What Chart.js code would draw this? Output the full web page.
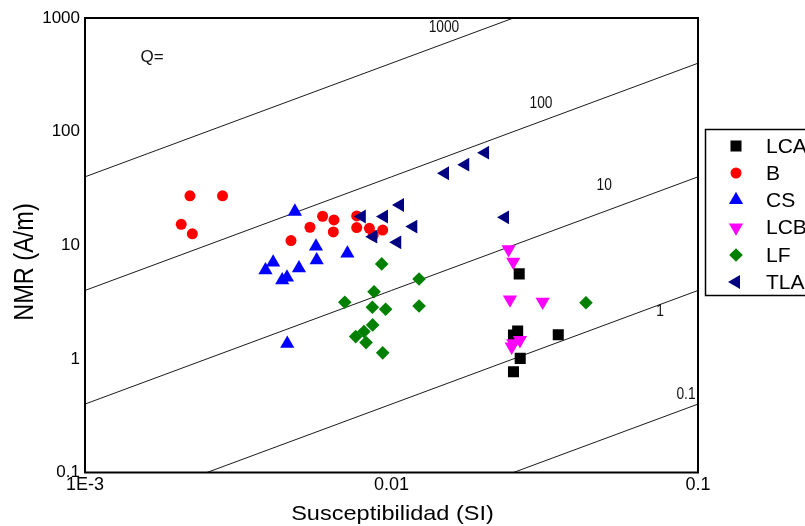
<!DOCTYPE html>
<html>
<head>
<meta charset="utf-8">
<script src="https://cdn.jsdelivr.net/npm/chart.js@4.4.1/dist/chart.umd.min.js"></script>
<style>
  html, body { margin: 0; padding: 0; background: #ffffff; }
  canvas { display: block; }
</style>
</head>
<body>
<canvas id="chart" width="805" height="526"></canvas>
<script>
// Susceptibility (SI) vs NRM (A/m) per lithology group
const lcaK = [0.0261, 0.0258, 0.0250, 0.0350, 0.0263, 0.0250];
const lcaN = [5.6, 1.76, 1.62, 1.63, 1.01, 0.77];

const bK = [0.0022, 0.00281, 0.00206, 0.00224, 0.0047, 0.00542, 0.00596, 0.00649, 0.00646, 0.0077, 0.0077, 0.00847, 0.00872, 0.00936];
const bN = [27.2, 27.2, 15.3, 12.6, 11.0, 14.4, 18.0, 16.7, 13.1, 18.1, 14.3, 14.1, 12.3, 13.6];

const csK = [0.00484, 0.00411, 0.00388, 0.0044, 0.00456, 0.00499, 0.00567, 0.0057, 0.00718, 0.00457];
const csN = [19.8, 7.05, 6.03, 4.93, 5.21, 6.29, 9.76, 7.39, 8.47, 1.36];

const lcbK = [0.0241, 0.02496, 0.02435, 0.03113, 0.02496, 0.02625, 0.02467];
const lcbN = [9.2, 7.15, 3.33, 3.18, 1.37, 1.46, 1.28];

const lfK = [0.00929, 0.0123, 0.00877, 0.00704, 0.00866, 0.00957, 0.0123, 0.00868, 0.00813, 0.00764, 0.00826, 0.00936, 0.0431];
const lfN = [6.85, 5.05, 3.9, 3.15, 2.85, 2.73, 2.92, 1.99, 1.74, 1.57, 1.39, 1.13, 3.12];

const tlaK = [0.0080, 0.00945, 0.01066, 0.01178, 0.00872, 0.01044, 0.01495, 0.0174, 0.0202, 0.02346];
const tlaN = [17.9, 17.9, 22.6, 14.6, 11.9, 10.6, 43.0, 51.2, 65.3, 17.6];

// Koenigsberger ratio reference lines (Q = NRM / (K * H)), end points
const qLabels = ['1000', '100', '10', '1', '0.1'];
const qStartK = [0.001, 0.001, 0.001, 0.0025, 0.025];
const qStartN = [40, 4, 0.4, 0.1, 0.1];
const qEndK = [0.025, 0.1, 0.1, 0.1, 0.1];
const qEndN = [1000, 400, 40, 4, 0.4];
// where each Q value is written
const qLabelK = [0.01483, 0.03075, 0.0494, 0.0752, 0.0914];
const qLabelN = [818, 175, 33.3, 2.62, 0.481];

const xTickValues = [0.001, 0.01, 0.1];
const xTickLabels = ['1E-3', '0.01', '0.1'];
const yTickValues = [0.1, 1, 10, 100, 1000];
const yTickLabels = ['0.1', '1', '10', '100', '1000'];

const FONT = 'Arial, "Liberation Sans", sans-serif';

function pts(xs, ys) { return xs.map((x, i) => ({ x: x, y: ys[i] })); }

const groups = [
  { label: 'LCA', xs: lcaK, ys: lcaN, color: '#000000', style: 'rect', radius: 7.8, rotation: 0, order: 5 },
  { label: 'B',   xs: bK,   ys: bN,   color: '#ff0000', style: 'circle', radius: 5.5, rotation: 0, order: 4 },
  { label: 'CS',  xs: csK,  ys: csN,  color: '#0000ff', style: 'triangle', radius: 8.2, rotation: 0, order: 3 },
  { label: 'LCB', xs: lcbK, ys: lcbN, color: '#ff00ff', style: 'triangle', radius: 8.2, rotation: 180, order: 2 },
  { label: 'LF',  xs: lfK,  ys: lfN,  color: '#008000', style: 'rectRot', radius: 6.8, rotation: 0, order: 1 },
  { label: 'TLA', xs: tlaK, ys: tlaN, color: '#000080', style: 'triangle', radius: 8.0, rotation: 270, order: 0 }
];

const datasets = [];
qLabels.forEach((q, i) => {
  datasets.push({
    type: 'line',
    label: 'Q=' + q,
    data: [{ x: qStartK[i], y: qStartN[i] }, { x: qEndK[i], y: qEndN[i] }],
    borderColor: '#1a1a1a',
    borderWidth: 1,
    pointRadius: 0,
    fill: false,
    order: 10
  });
});
groups.forEach(g => {
  datasets.push({
    type: 'scatter',
    label: g.label,
    data: pts(g.xs, g.ys),
    pointStyle: g.style,
    pointRadius: g.radius,
    pointRotation: g.rotation,
    backgroundColor: g.color,
    borderColor: g.color,
    borderWidth: 0,
    order: g.order
  });
});

function drawScaledText(ctx, text, x, y, font, sx, align, baseline, rot) {
  ctx.save();
  ctx.translate(x, y);
  if (rot) ctx.rotate(rot);
  ctx.scale(sx, 1);
  ctx.font = font;
  ctx.textAlign = align;
  ctx.textBaseline = baseline;
  ctx.fillText(text, 0, 0);
  ctx.restore();
}

const decorations = {
  id: 'decorations',
  afterDatasetsDraw(chart) {
    const { ctx, chartArea: a, scales } = chart;
    // frame around the plot
    ctx.save();
    ctx.strokeStyle = '#000';
    ctx.lineWidth = 2;
    ctx.strokeRect(a.left, a.top, a.right - a.left, a.bottom - a.top);
    ctx.restore();

    // Q values along the reference lines
    ctx.save();
    ctx.fillStyle = '#111';
    qLabels.forEach((q, i) => {
      const px = scales.x.getPixelForValue(qLabelK[i]);
      const py = scales.y.getPixelForValue(qLabelN[i]);
      drawScaledText(ctx, q, px, py, '16px ' + FONT, 0.86, 'center', 'middle', 0);
    });
    drawScaledText(ctx, 'Q=', scales.x.getPixelForValue(0.001654), scales.y.getPixelForValue(455),
      '17px ' + FONT, 1, 'center', 'middle', 0);
    ctx.restore();
  },
  afterDraw(chart) {
    const { ctx, chartArea: a } = chart;
    ctx.save();
    ctx.fillStyle = '#000';
    // axis titles
    drawScaledText(ctx, 'Susceptibilidad (SI)', (a.left + a.right) / 2 + 1, 520, '21px ' + FONT, 1.12, 'center', 'alphabetic', 0);
    drawScaledText(ctx, 'NMR (A/m)', 33, 262, '28px ' + FONT, 0.84, 'center', 'alphabetic', -Math.PI / 2);

    // legend box
    ctx.strokeStyle = '#000';
    ctx.lineWidth = 1.5;
    ctx.strokeRect(705.5, 129.5, 140, 166);
    const rowY = [146, 173, 200, 227.5, 255, 282];
    groups.forEach((g, i) => {
      ctx.fillStyle = g.color;
      ctx.strokeStyle = g.color;
      ctx.lineWidth = 0;
      Chart.helpers.drawPoint(ctx, {
        pointStyle: g.style,
        radius: g.radius,
        rotation: g.rotation,
        borderWidth: 0
      }, 736, rowY[i]);
      ctx.fillStyle = '#000';
      ctx.font = '21px ' + FONT;
      ctx.textAlign = 'left';
      ctx.textBaseline = 'middle';
      ctx.fillText(g.label, 766, rowY[i] + 1);
    });
    ctx.restore();
  }
};

new Chart(document.getElementById('chart'), {
  type: 'scatter',
  data: { datasets: datasets },
  options: {
    responsive: false,
    animation: false,
    devicePixelRatio: 1,
    layout: { padding: { top: 18, right: 107, left: 0, bottom: 0 } },
    plugins: { legend: { display: false }, tooltip: { enabled: false } },
    elements: { line: { tension: 0 } },
    scales: {
      x: {
        type: 'logarithmic',
        min: 0.001,
        max: 0.1,
        position: 'bottom',
        grid: { display: false, drawTicks: false },
        border: { display: false },
        ticks: {
          font: { family: FONT, size: 18 },
          color: '#000',
          padding: 2,
          autoSkip: false,
          maxRotation: 0,
          callback: (v, i) => xTickLabels[i]
        },
        afterBuildTicks: s => { s.ticks = xTickValues.map(v => ({ value: v })); },
        afterFit: s => { s.height = 53.5; }
      },
      y: {
        type: 'logarithmic',
        min: 0.1,
        max: 1000,
        grid: { display: false, drawTicks: false },
        border: { display: false },
        ticks: {
          font: { family: FONT, size: 17 },
          color: '#000',
          padding: 5,
          autoSkip: false,
          callback: (v, i) => yTickLabels[i]
        },
        afterBuildTicks: s => { s.ticks = yTickValues.map(v => ({ value: v })); },
        afterFit: s => { s.width = 85; }
      }
    }
  },
  plugins: [decorations]
});
</script>
</body>
</html>
